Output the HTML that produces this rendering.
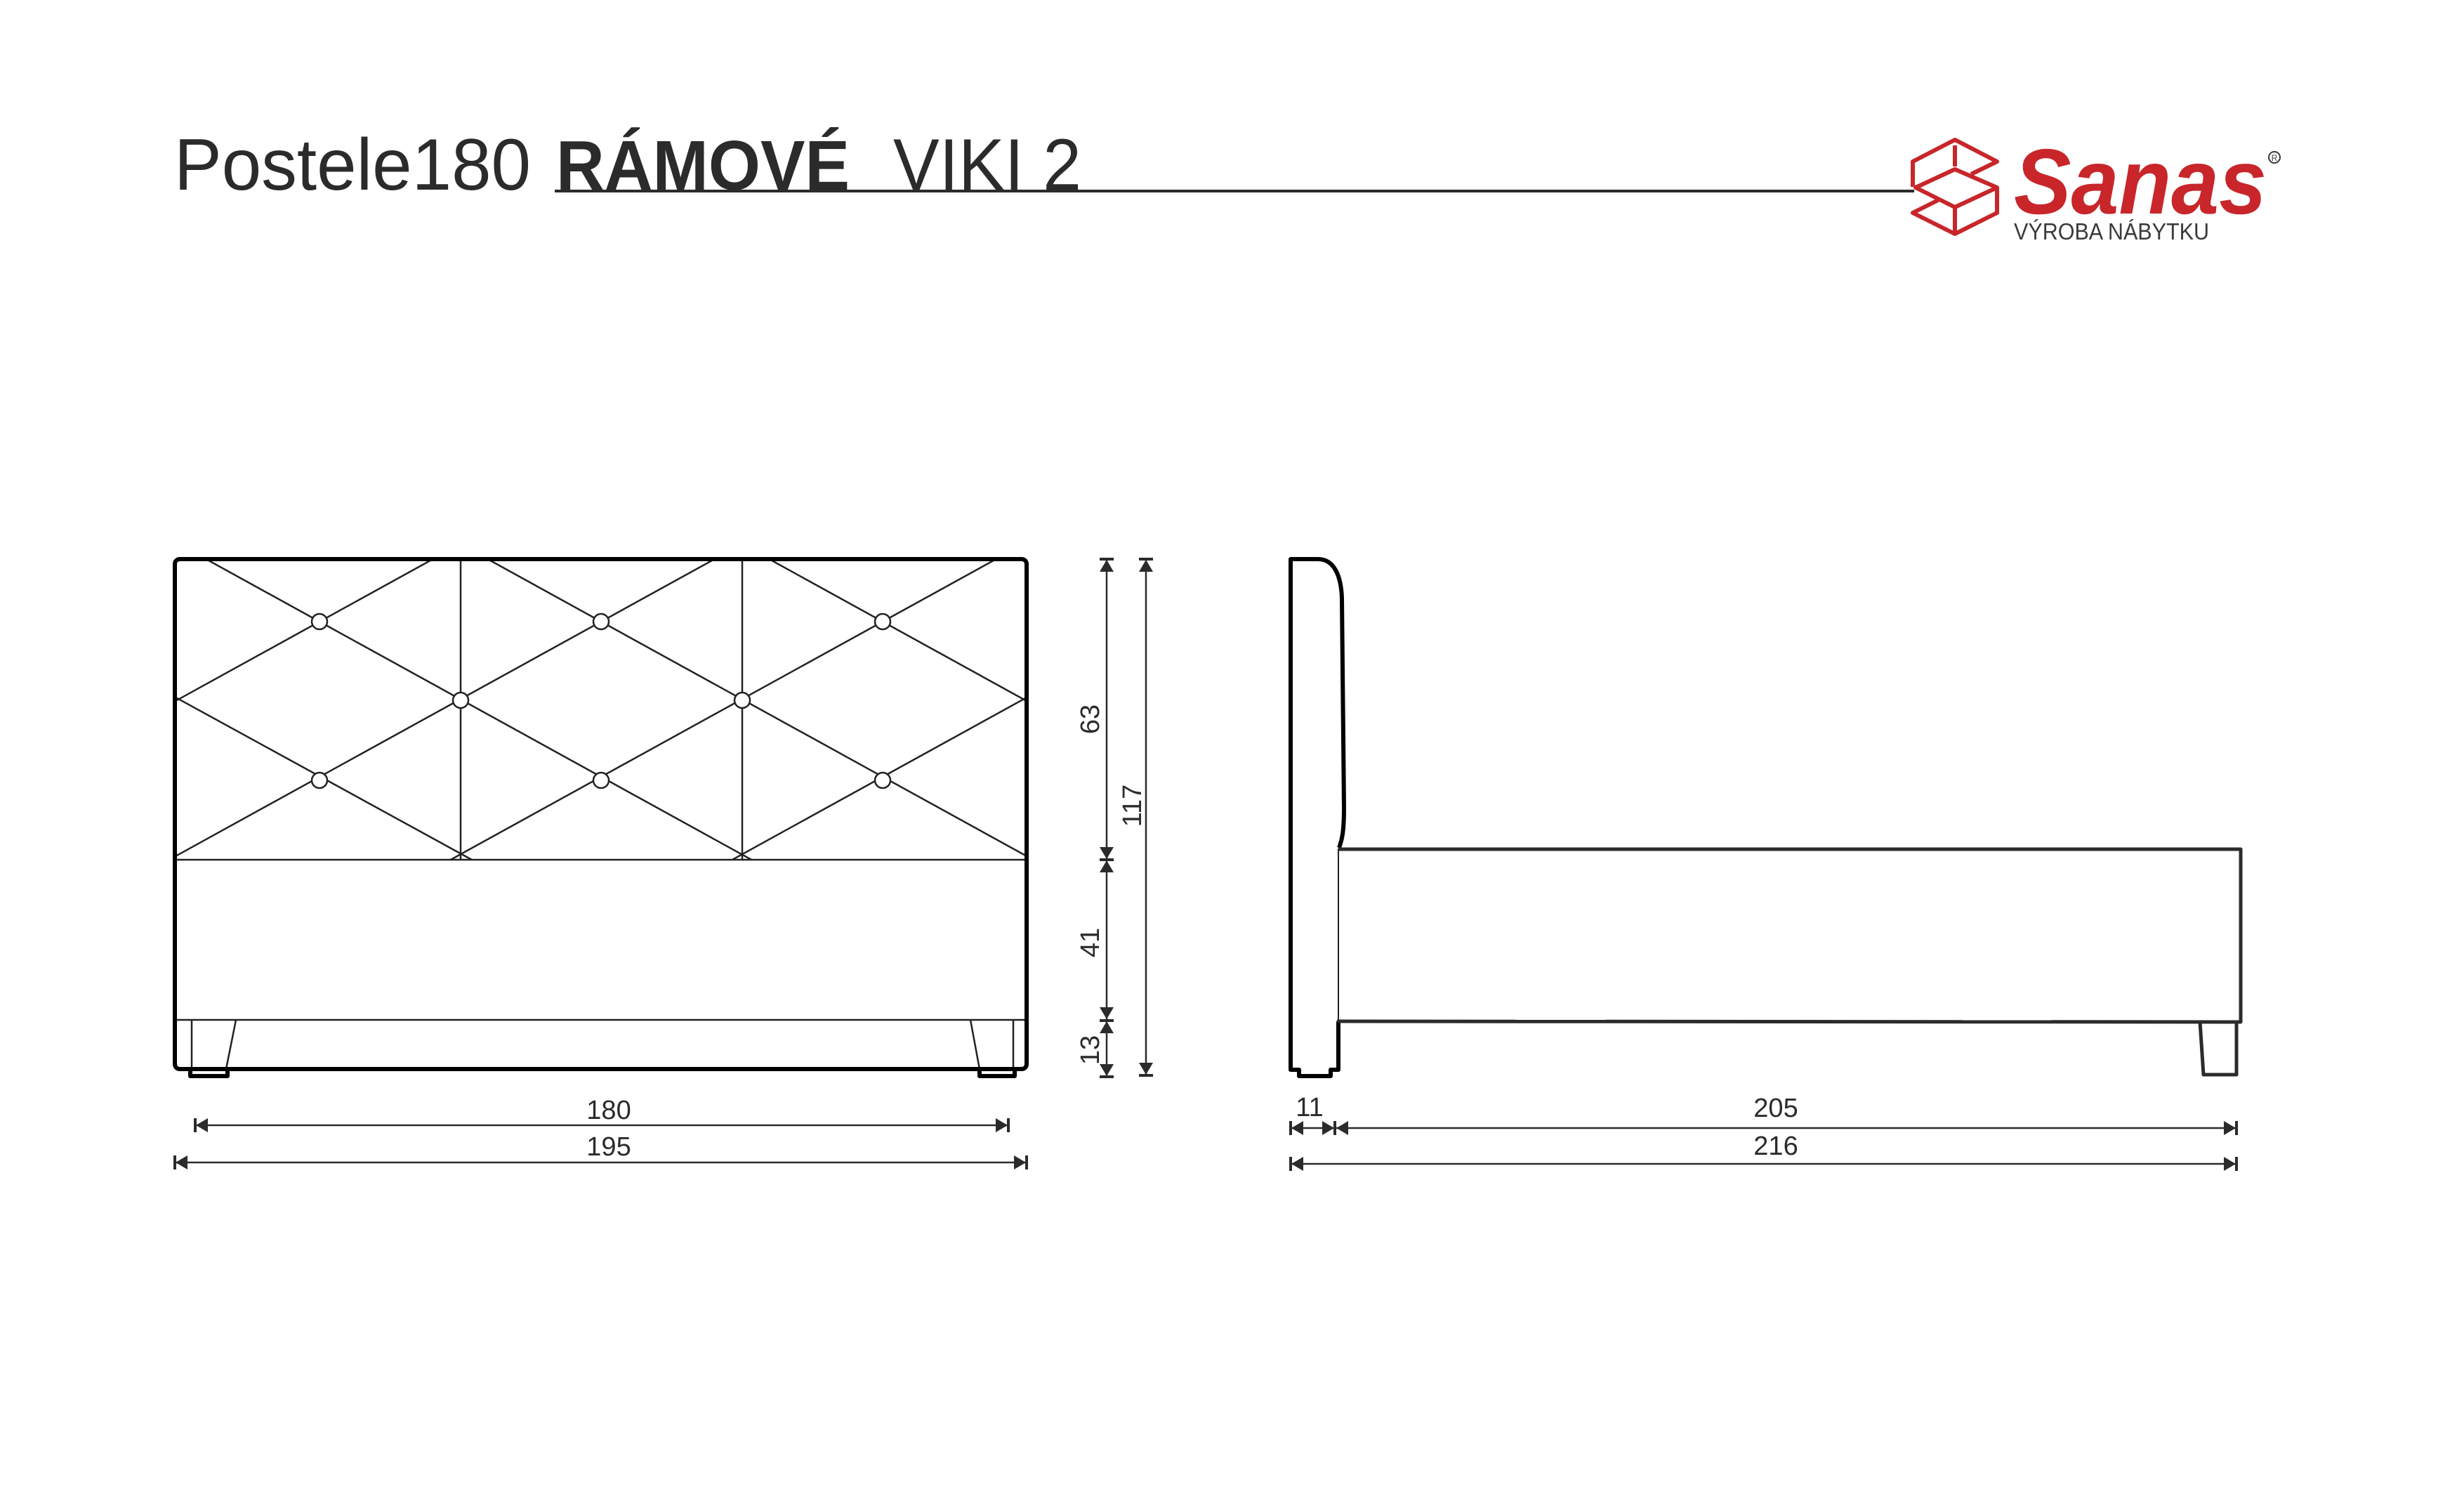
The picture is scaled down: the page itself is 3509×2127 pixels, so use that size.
<!DOCTYPE html>
<html><head><meta charset="utf-8"><style>
html,body{margin:0;padding:0;background:#fff;}
svg{display:block;}
text{font-family:"Liberation Sans",sans-serif;}
</style></head><body>
<svg width="3509" height="2127" viewBox="0 0 3509 2127" xmlns="http://www.w3.org/2000/svg">
<rect width="3509" height="2127" fill="#fff"/>
<!-- Title -->
<text x="248" y="270" font-size="104" fill="#2b2b2b" textLength="508" lengthAdjust="spacingAndGlyphs">Postele180</text>
<text x="792" y="270" font-size="100" font-weight="bold" fill="#2b2b2b" textLength="418" lengthAdjust="spacingAndGlyphs">RÁMOVÉ</text>
<text x="1272" y="270" font-size="104" fill="#2b2b2b" textLength="268" lengthAdjust="spacingAndGlyphs">VIKI 2</text>
<line x1="790" y1="272" x2="2726" y2="272" stroke="#2b2b2b" stroke-width="4"/>
<!-- Logo icon -->
<g fill="none" stroke="#c8262a" stroke-width="6" stroke-linejoin="round">
<polyline points="2807,248 2844,230 2784,199 2724,230 2724,266"/>
<line x1="2784" y1="207" x2="2784" y2="237"/>
<polygon points="2728,267 2784,241 2844,267 2784,295"/>
<polyline points="2844,267 2844,303 2784,333 2724,303 2760,285"/>
<line x1="2784" y1="297" x2="2784" y2="330"/>
</g>
<text x="2868" y="304" font-size="132" font-weight="bold" font-style="italic" fill="#c8262a" textLength="360" lengthAdjust="spacingAndGlyphs">Sanas</text>
<text x="2868" y="341" font-size="33" fill="#3a3a3a" textLength="278" lengthAdjust="spacingAndGlyphs">VÝROBA NÁBYTKU</text>
<circle cx="3239" cy="224" r="8" fill="none" stroke="#3a3a3a" stroke-width="2"/>
<text x="3239" y="229" font-size="12" fill="#3a3a3a" text-anchor="middle">R</text>

<!-- Front view -->
<defs><clipPath id="hb"><rect x="252" y="799" width="1207" height="425"/></clipPath></defs>
<g clip-path="url(#hb)" stroke="#222" stroke-width="2.5">
<line x1="200" y1="965.4" x2="1500" y2="1677.8"/>
<line x1="200" y1="744.5" x2="1500" y2="1460.8"/>
<line x1="200" y1="523.5" x2="1500" y2="1239.8"/>
<line x1="200" y1="302.6" x2="1500" y2="1018.9"/>
<line x1="200" y1="1025.5" x2="1500" y2="309.2"/>
<line x1="200" y1="1246.5" x2="1500" y2="530.2"/>
<line x1="200" y1="1467.4" x2="1500" y2="751.1"/>
<line x1="200" y1="1688.4" x2="1500" y2="972.1"/>
<line x1="656" y1="799" x2="656" y2="1224"/>
<line x1="1057" y1="799" x2="1057" y2="1224"/>
</g>
<g fill="#fff" stroke="#222" stroke-width="2.5">
<circle cx="455" cy="885" r="11"/><circle cx="856" cy="885" r="11"/><circle cx="1257" cy="885" r="11"/>
<circle cx="656" cy="997" r="11"/><circle cx="1057" cy="997" r="11"/>
<circle cx="455" cy="1111" r="11"/><circle cx="856" cy="1111" r="11"/><circle cx="1257" cy="1111" r="11"/>
</g>
<g stroke="#222" stroke-width="2.5" fill="none">
<line x1="252" y1="1224" x2="1459" y2="1224"/>
<line x1="252" y1="1452" x2="1459" y2="1452"/>
<line x1="273" y1="1452" x2="273" y2="1522"/>
<line x1="336" y1="1452" x2="322" y2="1522"/>
<line x1="1382" y1="1452" x2="1395" y2="1522"/>
<line x1="1443" y1="1452" x2="1443" y2="1522"/>
</g>
<rect x="249" y="796" width="1213" height="726" rx="7" fill="none" stroke="#000" stroke-width="6"/>
<g fill="none" stroke="#000" stroke-width="6" stroke-linejoin="round">
<polyline points="271,1522 271,1532 324,1532 324,1522"/>
<polyline points="1395,1522 1395,1532 1445,1532 1445,1522"/>
</g>

<!-- Side view -->
<g fill="none" stroke="#000" stroke-width="6" stroke-linejoin="round">
<path d="M1906,1454 L1906,1523 L1895,1523 L1895,1532 L1850,1532 L1850,1523 L1838,1523 L1838,796 L1877,796 C1900,796 1910,820 1911,852 L1914,1150 C1914,1185 1911,1196 1907,1207"/>
</g>
<line x1="1906" y1="1208" x2="1906" y2="1454" stroke="#222" stroke-width="2"/>
<g fill="none" stroke="#2b2b2b" stroke-width="5" stroke-linejoin="round">
<polyline points="1906,1209 3191,1209 3191,1455 3185,1455"/>
<line x1="1904" y1="1454" x2="3185" y2="1455"/>
<polyline points="3133,1455 3138,1530 3185,1530 3185,1455"/>
</g>

<!-- Dimensions -->
<g stroke="#2b2b2b" stroke-width="2.5">
<line x1="1576" y1="796" x2="1576" y2="1533"/>
<line x1="1632" y1="796" x2="1632" y2="1531"/>
<line x1="278" y1="1602" x2="1436" y2="1602"/>
<line x1="249" y1="1655" x2="1462" y2="1655"/>
<line x1="1838" y1="1606" x2="3185" y2="1606"/>
<line x1="1838" y1="1657" x2="3185" y2="1657"/>
</g>
<g fill="#2b2b2b">
<rect x="1566" y="794" width="20" height="4"/><polygon points="1576,797 1566,814 1586,814"/>
<polygon points="1576,1223 1566,1206 1586,1206"/><rect x="1566" y="1222" width="20" height="4"/><polygon points="1576,1225 1566,1242 1586,1242"/>
<polygon points="1576,1451 1566,1434 1586,1434"/><rect x="1566" y="1451" width="20" height="4"/><polygon points="1576,1454 1566,1471 1586,1471"/>
<polygon points="1576,1532 1566,1515 1586,1515"/><rect x="1566" y="1531" width="20" height="4"/>
<rect x="1622" y="794" width="20" height="4"/><polygon points="1632,797 1622,814 1642,814"/>
<polygon points="1632,1530 1622,1513 1642,1513"/><rect x="1622" y="1529" width="20" height="4"/>
<rect x="276" y="1592" width="4" height="20"/><polygon points="279,1602 296,1592 296,1612"/>
<rect x="1434" y="1592" width="4" height="20"/><polygon points="1435,1602 1418,1592 1418,1612"/>
<rect x="247" y="1645" width="4" height="20"/><polygon points="250,1655 267,1645 267,1665"/>
<rect x="1460" y="1645" width="4" height="20"/><polygon points="1461,1655 1444,1645 1444,1665"/>
<rect x="1836" y="1596" width="4" height="20"/><polygon points="1839,1606 1856,1596 1856,1616"/>
<polygon points="1900,1606 1883,1596 1883,1616"/><rect x="1899" y="1596" width="4" height="20"/><polygon points="1903,1606 1920,1596 1920,1616"/>
<rect x="3183" y="1596" width="4" height="20"/><polygon points="3184,1606 3167,1596 3167,1616"/>
<rect x="1836" y="1647" width="4" height="20"/><polygon points="1839,1657 1856,1647 1856,1667"/>
<rect x="3183" y="1647" width="4" height="20"/><polygon points="3184,1657 3167,1647 3167,1667"/>
</g>
<g fill="#2b2b2b" font-size="38" text-anchor="middle">
<text x="867" y="1593">180</text>
<text x="867" y="1645">195</text>
<text x="1865" y="1589">11</text>
<text x="2529" y="1590">205</text>
<text x="2529" y="1644">216</text>
<text transform="translate(1565,1024) rotate(-90)">63</text>
<text transform="translate(1565,1342) rotate(-90)">41</text>
<text transform="translate(1565,1495) rotate(-90)">13</text>
<text transform="translate(1625,1147) rotate(-90)">117</text>
</g>
</svg>
</body></html>
